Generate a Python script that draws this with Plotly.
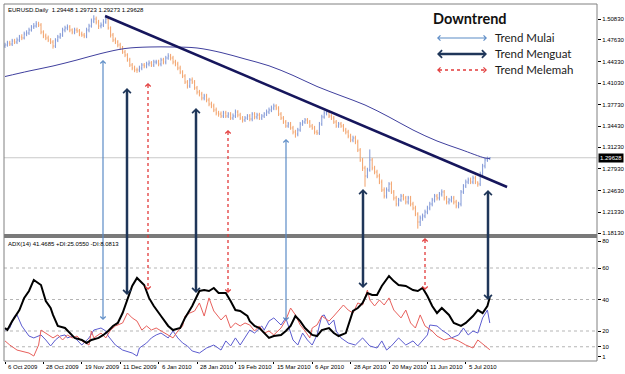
import plotly.graph_objects as go

# ---------------- data ----------------
close = [1.4686,1.4716,1.4701,1.4747,1.4731,1.4762,1.4808,1.4793,1.4854,1.4869,
 1.4915,1.4961,1.4976,1.5007,1.4991,1.4884,1.4823,1.4793,1.4762,1.4731,
 1.4670,1.4762,1.4808,1.4838,1.4915,1.4946,1.4961,1.4915,1.4884,1.4915,
 1.4900,1.4854,1.4838,1.4823,1.4915,1.4976,1.5052,1.5083,1.5037,1.4976,
 1.4991,1.5037,1.5083,1.4946,1.4838,1.4762,1.4731,1.4686,1.4640,1.4578,
 1.4533,1.4457,1.4380,1.4334,1.4304,1.4304,1.4334,1.4380,1.4365,1.4395,
 1.4411,1.4380,1.4426,1.4426,1.4395,1.4457,1.4426,1.4487,1.4517,1.4487,
 1.4426,1.4395,1.4334,1.4273,1.4212,1.4120,1.4059,1.4151,1.4120,1.4029,
 1.3967,1.3937,1.3876,1.3907,1.3845,1.3784,1.3754,1.3693,1.3647,1.3631,
 1.3601,1.3647,1.3601,1.3631,1.3570,1.3601,1.3662,1.3616,1.3570,1.3540,
 1.3570,1.3601,1.3555,1.3631,1.3586,1.3616,1.3570,1.3601,1.3631,1.3662,
 1.3693,1.3723,1.3754,1.3723,1.3631,1.3570,1.3509,1.3448,1.3479,1.3418,
 1.3356,1.3326,1.3387,1.3479,1.3509,1.3540,1.3509,1.3448,1.3418,1.3356,
 1.3341,1.3479,1.3586,1.3647,1.3662,1.3601,1.3570,1.3509,1.3448,1.3479,
 1.3448,1.3387,1.3356,1.3295,1.3234,1.3265,1.3204,1.3081,1.2929,1.2806,
 1.2684,1.2776,1.2929,1.2806,1.2745,1.2684,1.2592,1.2470,1.2378,1.2470,
 1.2562,1.2440,1.2348,1.2256,1.2317,1.2378,1.2348,1.2287,1.2348,1.2256,
 1.2195,1.2103,1.1981,1.2042,1.2073,1.2134,1.2195,1.2256,1.2317,1.2378,
 1.2348,1.2409,1.2440,1.2348,1.2287,1.2317,1.2348,1.2287,1.2226,1.2256,
 1.2440,1.2531,1.2592,1.2623,1.2592,1.2654,1.2592,1.2562,1.2715,1.2837,
 1.2930,1.29448,1.29628]

high = [1.472,1.475,1.475,1.478,1.478,1.480,1.484,1.485,1.489,1.491,
 1.495,1.499,1.502,1.505,1.504,1.502,1.491,1.486,1.483,1.479,
 1.476,1.479,1.484,1.487,1.495,1.498,1.500,1.499,1.494,1.495,
 1.495,1.493,1.489,1.487,1.495,1.501,1.509,1.514,1.512,1.507,
 1.503,1.508,1.513,1.511,1.497,1.487,1.480,1.476,1.472,1.467,
 1.461,1.456,1.449,1.441,1.437,1.434,1.437,1.441,1.441,1.443,
 1.445,1.444,1.446,1.446,1.446,1.449,1.449,1.452,1.456,1.455,
 1.452,1.446,1.443,1.437,1.430,1.424,1.415,1.418,1.419,1.415,
 1.406,1.400,1.397,1.394,1.394,1.388,1.382,1.379,1.373,1.368,
 1.367,1.368,1.368,1.366,1.366,1.364,1.370,1.369,1.365,1.360,
 1.360,1.363,1.363,1.366,1.366,1.365,1.365,1.363,1.366,1.370,
 1.373,1.376,1.379,1.378,1.375,1.366,1.360,1.354,1.351,1.351,
 1.345,1.339,1.342,1.351,1.354,1.357,1.357,1.354,1.348,1.345,
 1.339,1.351,1.362,1.368,1.370,1.369,1.363,1.360,1.354,1.351,
 1.351,1.348,1.342,1.339,1.333,1.330,1.330,1.324,1.311,1.296,
 1.284,1.281,1.309,1.296,1.284,1.278,1.272,1.263,1.251,1.251,
 1.259,1.260,1.247,1.238,1.235,1.241,1.241,1.238,1.238,1.238,
 1.229,1.223,1.213,1.208,1.211,1.217,1.223,1.229,1.235,1.241,
 1.241,1.244,1.248,1.247,1.238,1.235,1.238,1.238,1.232,1.229,
 1.247,1.256,1.263,1.266,1.266,1.269,1.269,1.260,1.275,1.287,
 1.296,1.298,1.29723]

low = [1.464,1.466,1.467,1.467,1.470,1.470,1.473,1.476,1.477,1.482,
 1.484,1.489,1.493,1.495,1.496,1.485,1.479,1.476,1.473,1.470,
 1.463,1.464,1.473,1.478,1.481,1.488,1.491,1.488,1.485,1.485,
 1.487,1.482,1.481,1.479,1.479,1.488,1.495,1.502,1.500,1.493,
 1.494,1.496,1.501,1.492,1.480,1.473,1.470,1.465,1.461,1.455,
 1.450,1.443,1.435,1.430,1.427,1.426,1.427,1.430,1.433,1.433,
 1.436,1.435,1.435,1.439,1.436,1.436,1.439,1.439,1.446,1.445,
 1.439,1.436,1.430,1.424,1.418,1.409,1.402,1.403,1.409,1.400,
 1.393,1.390,1.384,1.384,1.381,1.375,1.372,1.366,1.361,1.359,
 1.357,1.357,1.357,1.357,1.354,1.354,1.357,1.358,1.354,1.350,
 1.351,1.354,1.352,1.352,1.355,1.355,1.354,1.354,1.357,1.360,
 1.363,1.366,1.369,1.369,1.360,1.354,1.348,1.342,1.342,1.339,
 1.332,1.327,1.329,1.336,1.345,1.348,1.348,1.342,1.339,1.332,
 1.331,1.331,1.345,1.356,1.361,1.357,1.354,1.348,1.342,1.342,
 1.342,1.336,1.332,1.326,1.320,1.320,1.317,1.305,1.290,1.276,
 1.252,1.265,1.275,1.277,1.271,1.265,1.256,1.244,1.234,1.234,
 1.244,1.241,1.231,1.222,1.222,1.229,1.231,1.225,1.225,1.222,
 1.216,1.207,1.188,1.192,1.200,1.204,1.210,1.216,1.222,1.228,
 1.231,1.231,1.237,1.231,1.225,1.225,1.228,1.225,1.219,1.219,
 1.222,1.241,1.250,1.256,1.256,1.256,1.256,1.252,1.253,1.268,
 1.280,1.290,1.29273]

first_open = 1.4670
bar_idx = list(range(len(close)))
opens = [first_open] + close[:-1]

ma_idx = [0,10,20,30,40,50,60,70,80,90,100,110,120,130,140,150,160,170,180,190,200,202]
ma_val = [1.4204,1.4288,1.4365,1.4457,1.4556,1.4632,1.4655,1.4655,1.4640,1.4571,1.4472,
          1.4368,1.4221,1.4052,1.3910,1.3769,1.3586,1.3387,1.3219,1.3088,1.2959,1.2951]

trend_idx = [41.7, 209.2]
trend_val = [1.5129, 1.2516]
last_price = 1.29628

adx_idx = [0,1,3,6,8,10,12,15,17,19,20,22,25,27,29,32,34,36,39,41,43,45,47,49,51,53,55,58,60,62,
           65,68,70,73,75,78,81,83,85,87,89,92,94,96,98,101,102,104,106,108,110,112,115,117,119,121,
           123,125,128,130,132,135,137,139,142,145,147,149,151,153,155,157,160,162,164,167,170,172,
           174,176,178,180,182,185,187,190,192,195,197,199,201,202]
adx_val = [21.9,20.6,26.3,33.3,41.0,45.4,52.4,49.2,39.0,34.6,30.2,23.2,21.9,18.7,15.6,14.3,12.4,14.3,
           15.6,17.5,20.0,23.2,25.1,31.4,39.7,48.6,53.7,49.2,41.0,35.9,29.5,23.2,20.6,21.9,28.3,35.9,
           45.4,46.0,45.4,47.3,44.1,44.1,39.0,33.3,32.7,29.5,26.3,23.2,21.9,18.7,15.6,16.8,17.5,20.0,
           23.2,29.5,26.3,21.9,17.5,16.8,20.6,21.9,18.7,16.8,18.7,32.7,34.6,37.8,44.1,42.9,42.9,48.6,
           54.9,51.7,49.2,48.6,46.0,45.4,47.3,42.2,35.9,31.4,34.6,30.2,25.1,23.2,25.1,29.5,33.3,31.4,
           35.9,41.47]

pdi_idx = [0,2,4,5,7,10,12,15,17,19,21,23,25,26,28,30,32,35,37,40,42,43,46,49,53,55,56,58,59,61,
           63,65,68,70,72,74,76,78,81,84,87,90,92,94,96,98,100,101,102,104,107,108,110,112,115,117,
           120,122,124,126,128,130,132,133,135,137,138,140,143,146,149,152,155,157,159,161,164,167,
           170,172,174,176,177,180,182,185,186,189,191,193,195,197,199,201,202]
pdi_val = [20.6,21.9,29.5,30.2,23.2,16.8,15.6,17.5,14.3,10.5,14.3,16.8,17.5,15.6,16.8,14.3,11.1,15.6,
           20.6,21.9,20.0,16.8,11.1,7.9,6.0,4.1,9.2,11.1,12.4,15.6,17.5,18.7,15.6,20.0,15.6,12.4,10.5,
           7.3,6.0,9.2,11.1,7.9,13.7,10.5,15.6,11.1,15.6,18.7,20.6,18.7,23.2,20.6,26.3,28.3,23.8,28.3,
           14.3,11.1,18.7,14.3,11.1,17.5,29.5,30.2,23.8,27.0,20.0,15.6,12.4,11.1,15.6,10.5,9.2,13.7,
           7.9,10.5,15.6,11.1,13.7,10.5,13.7,17.5,23.8,23.2,20.6,17.5,15.6,17.5,21.9,17.5,20.0,18.7,
           28.3,33.3,25.06]

mdi_idx = [0,2,5,7,10,12,14,15,17,20,22,24,26,28,30,32,35,36,37,40,42,44,46,49,51,53,55,57,59,61,
           63,65,68,70,72,74,75,77,79,81,83,85,87,90,92,94,96,98,100,102,104,106,108,110,112,115,117,
           119,121,123,125,127,128,130,132,135,137,139,141,143,145,147,149,151,152,154,156,158,160,
           162,165,167,169,171,173,175,178,180,183,186,189,192,195,197,200,202]
mdi_val = [13.7,11.1,7.9,7.3,6.0,4.1,11.1,20.6,18.7,15.6,17.5,14.3,17.5,15.6,16.8,13.7,11.1,20.0,
           15.6,18.7,15.6,20.6,23.2,25.1,31.4,28.3,26.3,20.6,23.2,20.6,21.9,20.0,17.5,15.6,20.0,23.2,
           29.5,31.4,32.7,37.8,29.5,41.0,32.7,27.0,30.2,21.9,25.1,23.2,25.1,23.8,20.0,23.2,18.7,20.0,
           17.5,21.9,27.0,34.6,30.2,23.8,20.0,15.6,21.9,23.8,29.5,26.3,29.5,33.3,36.5,33.3,31.4,37.8,
           36.5,46.0,39.7,35.9,39.7,36.5,41.0,33.3,28.3,33.3,25.1,21.9,30.2,23.2,20.0,16.8,14.3,15.6,
           13.7,11.1,9.2,14.3,10.5,8.08]

date_tick_idx = [0,16,32,48,64,80,96,112,128,144,160,176,192]
date_labels = ["6 Oct 2009","28 Oct 2009","19 Nov 2009","11 Dec 2009","6 Jan 2010","28 Jan 2010",
               "19 Feb 2010","15 Mar 2010","6 Apr 2010","28 Apr 2010","20 May 2010","11 Jun 2010",
               "5 Jul 2010"]
price_ticks = [1.50830,1.47630,1.44330,1.41030,1.37730,1.34430,1.31230,1.27930,1.24630,1.21330,1.18130]
adx_levels = [60,40,20,10]
adx_tick_pos = [77.1,60,40,20,10,3.5]
adx_tick_text = ['80','60','40','20','10','1']

header_text = "EURUSD.Daily  1.29448 1.29723 1.29273 1.29628"
adx_text = "ADX(14) 41.4685 +DI:25.0550 -DI:8.0813"

# ---------------- layout geometry ----------------
W, H = 625, 374
ML, MR, MT, MB = 4, 28, 4, 13
PW, PH = W - ML - MR, H - MT - MB


def px(x):
    return (x - ML) / PW


def py(y):
    return (H - MB - y) / PH


XMIN = -0.417
XMAX = XMIN + PW / 2.4

BLUE_BAR = '#7f96d6'
ORANGE_BAR = '#f2a26a'
C_START = '#5b8bc6'
C_STRONG = '#1f3659'
C_WEAK = '#e23a3a'
TICKFONT = dict(family='Liberation Sans, Arial, sans-serif', size=6, color='#000000')

fig = go.Figure()
fig.add_trace(go.Ohlc(x=bar_idx, open=opens, high=high, low=low, close=close,
                      increasing=dict(line=dict(color=BLUE_BAR, width=1)),
                      decreasing=dict(line=dict(color=ORANGE_BAR, width=1)),
                      tickwidth=0.3, xaxis='x', yaxis='y', hoverinfo='skip'))
fig.add_trace(go.Scatter(x=ma_idx, y=ma_val, mode='lines', xaxis='x', yaxis='y',
                         line=dict(color='#40409e', width=1, shape='spline')))
fig.add_trace(go.Scatter(x=trend_idx, y=trend_val, mode='lines', xaxis='x', yaxis='y',
                         line=dict(color='#16165c', width=2.5)))
fig.add_trace(go.Scatter(x=pdi_idx, y=pdi_val, mode='lines', xaxis='x2', yaxis='y2',
                         line=dict(color='#5c5cd0', width=1)))
fig.add_trace(go.Scatter(x=mdi_idx, y=mdi_val, mode='lines', xaxis='x2', yaxis='y2',
                         line=dict(color='#e8605c', width=1)))
fig.add_trace(go.Scatter(x=adx_idx, y=adx_val, mode='lines', xaxis='x2', yaxis='y2',
                         line=dict(color='#000000', width=2)))

shapes = []
annotations = []

# current price line
shapes.append(dict(type='line', xref='paper', yref='y', x0=0, x1=1, y0=last_price, y1=last_price,
                   line=dict(color='#c9c9c9', width=1), layer='below'))
# ADX levels
for lv in adx_levels:
    shapes.append(dict(type='line', xref='paper', yref='y2', x0=0, x1=1, y0=lv, y1=lv,
                       line=dict(color='#b5b5b5', width=1, dash='dot'), layer='below'))
# separator band and frame
shapes.append(dict(type='rect', xref='paper', yref='paper', x0=0, x1=1, y0=py(238), y1=py(234),
                   fillcolor='#7a7a7a', line=dict(width=0)))
shapes.append(dict(type='rect', xref='paper', yref='paper', x0=0, x1=1, y0=0, y1=1,
                   fillcolor='rgba(0,0,0,0)', line=dict(color='#808080', width=1)))

styles = {
    'start': dict(color=C_START, width=1.2, dash='solid', size=0.85),
    'strong': dict(color=C_STRONG, width=2.5, dash='solid', size=0.6),
    'weak': dict(color=C_WEAK, width=1.3, dash='dot', size=0.8),
}


def head(xp, yp, ax, ay, st):
    annotations.append(dict(x=px(xp), y=py(yp), xref='paper', yref='paper', ax=ax, ay=ay,
                            axref='pixel', ayref='pixel', text='', showarrow=True, arrowhead=4,
                            arrowsize=st['size'], arrowwidth=st['width'], arrowcolor=st['color']))


def varrow(x, ytop, ybot, kind):
    st = styles[kind]
    shapes.append(dict(type='line', xref='paper', yref='paper', x0=px(x), x1=px(x),
                       y0=py(ytop + 2), y1=py(ybot - 2),
                       line=dict(color=st['color'], width=st['width'], dash=st['dash'])))
    head(x, ytop, 0, 4, st)
    head(x, ybot, 0, -4, st)


def harrow(x0, x1, y, kind):
    st = styles[kind]
    shapes.append(dict(type='line', xref='paper', yref='paper', x0=px(x0 + 2), x1=px(x1 - 2),
                       y0=py(y), y1=py(y),
                       line=dict(color=st['color'], width=st['width'], dash=st['dash'])))
    head(x0, y, 4, 0, st)
    head(x1, y, -4, 0, st)


for x, yt, yb, k in [(103, 60, 320, 'start'), (127, 88, 295, 'strong'), (148, 83, 290, 'weak'),
                     (196, 108, 293, 'strong'), (228, 130, 293, 'weak'), (286, 139, 321, 'start'),
                     (363, 189, 288, 'strong'), (425, 238, 290, 'weak'), (488, 190, 300, 'strong')]:
    varrow(x, yt, yb, k)

# legend box
harrow(437, 487, 38, 'start')
harrow(437, 487, 54, 'strong')
harrow(437, 487, 70, 'weak')
LEG = dict(family='Lato, sans-serif', size=11.5, color='#1a1a1a')
annotations.append(dict(x=px(431), y=py(19), xref='paper', yref='paper', text='<b>Downtrend</b>',
                        showarrow=False, xanchor='left', yanchor='middle',
                        font=dict(family='Lato, sans-serif', size=14.5, color='#111111')))
for yv, t in [(37, 'Trend Mulai'), (53.5, 'Trend Menguat'), (69.5, 'Trend Melemah')]:
    annotations.append(dict(x=px(493), y=py(yv), xref='paper', yref='paper', text=t,
                            showarrow=False, xanchor='left', yanchor='middle', font=LEG))

# date labels: placed at the bar positions of the x axis, left-aligned like the terminal does
for idx, lab in zip(date_tick_idx, date_labels):
    annotations.append(dict(x=idx, xref='x2', y=py(366.5), yref='paper', text=lab, showarrow=False,
                            xanchor='left', yanchor='middle', xshift=1, font=TICKFONT))

# header texts
annotations.append(dict(x=px(6), y=py(10), xref='paper', yref='paper', text=header_text,
                        showarrow=False, xanchor='left', yanchor='middle', font=TICKFONT))
annotations.append(dict(x=px(6), y=py(244), xref='paper', yref='paper', text=adx_text,
                        showarrow=False, xanchor='left', yanchor='middle', font=TICKFONT))
# current price label
annotations.append(dict(x=1, xref='paper', y=last_price, yref='y', text='1.29628', showarrow=False,
                        xanchor='left', yanchor='middle', xshift=1, bgcolor='#000000', borderpad=1,
                        font=dict(family='Liberation Sans, Arial, sans-serif', size=6, color='#ffffff')))

fig.update_layout(
    width=W, height=H, margin=dict(l=ML, r=MR, t=MT, b=MB),
    paper_bgcolor='white', plot_bgcolor='white', showlegend=False, hovermode=False,
    shapes=shapes, annotations=annotations,
    xaxis=dict(domain=[0, 1], range=[XMIN, XMAX], anchor='y', showticklabels=False, ticks='',
               showgrid=False, zeroline=False, showline=False, rangeslider=dict(visible=False)),
    xaxis2=dict(domain=[0, 1], range=[XMIN, XMAX], anchor='y2', tickmode='array',
                tickvals=date_tick_idx, showticklabels=False, ticks='outside', ticklen=2,
                tickcolor='#000000', showgrid=False, zeroline=False, showline=False,
                automargin=False),
    yaxis=dict(domain=[py(234), 1], range=[1.17978, 1.53122], side='right', anchor='x',
               tickmode='array', tickvals=price_ticks, ticktext=[f'{v:.5f}' for v in price_ticks],
               ticks='outside', ticklen=3, tickcolor='#000000', tickfont=TICKFONT,
               showgrid=False, zeroline=False, showline=False, automargin=False),
    yaxis2=dict(domain=[0, py(239)], range=[0.952, 78.41], side='right', anchor='x2',
                tickmode='array', tickvals=adx_tick_pos, ticktext=adx_tick_text,
                ticks='outside', ticklen=3, tickcolor='#000000', tickfont=TICKFONT,
                showgrid=False, zeroline=False, showline=False, automargin=False),
)

fig.write_html("out.html", config={'displayModeBar': False},
               post_script="document.body.style.margin='0px';document.body.style.padding='0px';")
